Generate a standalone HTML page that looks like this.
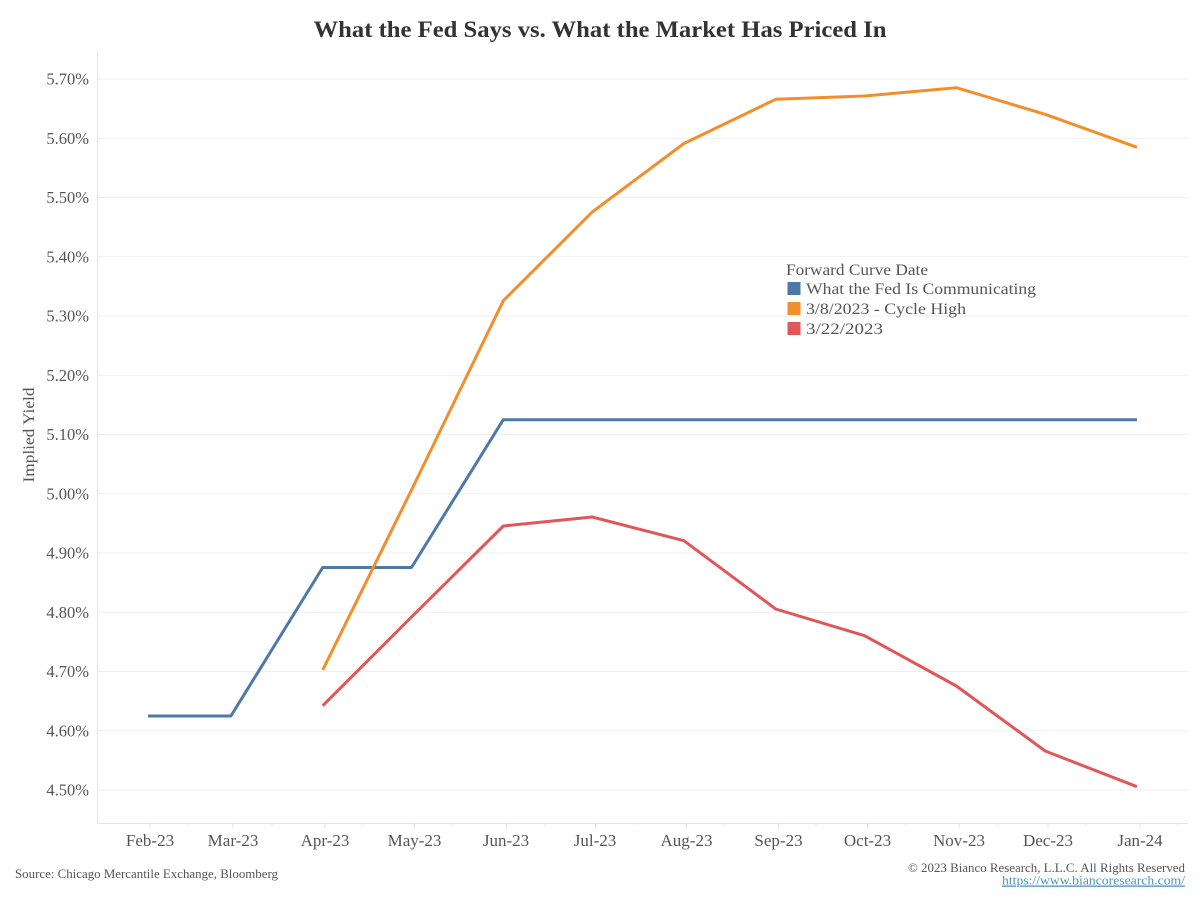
<!DOCTYPE html>
<html>
<head>
<meta charset="utf-8">
<style>
html,body{margin:0;padding:0;background:#fff;}
svg{display:block;}
text{font-family:"Liberation Serif","DejaVu Serif",serif;}
</style>
</head>
<body>
<svg width="1200" height="900" viewBox="0 0 1200 900" xmlns="http://www.w3.org/2000/svg">
<rect width="1200" height="900" fill="#fff"/>
<!-- Title -->
<text x="600" y="37" text-anchor="middle" font-size="23" font-weight="bold" fill="#333" textLength="573" lengthAdjust="spacingAndGlyphs">What the Fed Says vs. What the Market Has Priced In</text>

<!-- gridlines -->
<g stroke="#efefef" stroke-width="1">
<line x1="97" y1="79" x2="1188" y2="79"/>
<line x1="97" y1="138.25" x2="1188" y2="138.25"/>
<line x1="97" y1="197.5" x2="1188" y2="197.5"/>
<line x1="97" y1="256.75" x2="1188" y2="256.75"/>
<line x1="97" y1="316" x2="1188" y2="316"/>
<line x1="97" y1="375.25" x2="1188" y2="375.25"/>
<line x1="97" y1="434.5" x2="1188" y2="434.5"/>
<line x1="97" y1="493.75" x2="1188" y2="493.75"/>
<line x1="97" y1="553" x2="1188" y2="553"/>
<line x1="97" y1="612.25" x2="1188" y2="612.25"/>
<line x1="97" y1="671.5" x2="1188" y2="671.5"/>
<line x1="97" y1="730.75" x2="1188" y2="730.75"/>
<line x1="97" y1="790" x2="1188" y2="790"/>
</g>

<!-- axes -->
<g stroke="#e4e4e4" stroke-width="1">
<line x1="97.5" y1="51" x2="97.5" y2="823"/>
<line x1="97" y1="823.5" x2="1188" y2="823.5"/>
</g>
<!-- major ticks -->
<g stroke="#e0e0e0" stroke-width="1">
<line x1="150" y1="823" x2="150" y2="828"/>
<line x1="233" y1="823" x2="233" y2="828"/>
<line x1="325" y1="823" x2="325" y2="828"/>
<line x1="414.5" y1="823" x2="414.5" y2="828"/>
<line x1="506.5" y1="823" x2="506.5" y2="828"/>
<line x1="595.5" y1="823" x2="595.5" y2="828"/>
<line x1="686.5" y1="823" x2="686.5" y2="828"/>
<line x1="778.5" y1="823" x2="778.5" y2="828"/>
<line x1="867.5" y1="823" x2="867.5" y2="828"/>
<line x1="959" y1="823" x2="959" y2="828"/>
<line x1="1048" y1="823" x2="1048" y2="828"/>
<line x1="1140" y1="823" x2="1140" y2="828"/>
</g>
<!-- minor ticks -->
<g stroke="#ececec" stroke-width="1">
<line x1="188" y1="823" x2="188" y2="826"/>
<line x1="272" y1="823" x2="272" y2="826"/>
<line x1="363" y1="823" x2="363" y2="826"/>
<line x1="452.5" y1="823" x2="452.5" y2="826"/>
<line x1="544.5" y1="823" x2="544.5" y2="826"/>
<line x1="633.5" y1="823" x2="633.5" y2="826"/>
<line x1="724.5" y1="823" x2="724.5" y2="826"/>
<line x1="816" y1="823" x2="816" y2="826"/>
<line x1="906" y1="823" x2="906" y2="826"/>
<line x1="997" y1="823" x2="997" y2="826"/>
<line x1="1086" y1="823" x2="1086" y2="826"/>
<line x1="1178" y1="823" x2="1178" y2="826"/>
</g>

<!-- y labels -->
<g font-size="16.5" fill="#555" text-anchor="end">
<text x="89" y="84.5">5.70%</text>
<text x="89" y="143.75">5.60%</text>
<text x="89" y="203">5.50%</text>
<text x="89" y="262.25">5.40%</text>
<text x="89" y="321.5">5.30%</text>
<text x="89" y="380.75">5.20%</text>
<text x="89" y="440">5.10%</text>
<text x="89" y="499.25">5.00%</text>
<text x="89" y="558.5">4.90%</text>
<text x="89" y="617.75">4.80%</text>
<text x="89" y="677">4.70%</text>
<text x="89" y="736.25">4.60%</text>
<text x="89" y="795.5">4.50%</text>
</g>

<!-- y axis title -->
<text transform="translate(34,435) rotate(-90)" text-anchor="middle" font-size="15.5" fill="#555" textLength="95" lengthAdjust="spacingAndGlyphs">Implied Yield</text>

<!-- x labels -->
<g font-size="17" fill="#555" text-anchor="middle">
<text x="150" y="846">Feb-23</text>
<text x="233" y="846">Mar-23</text>
<text x="325" y="846">Apr-23</text>
<text x="414.5" y="846">May-23</text>
<text x="506" y="846">Jun-23</text>
<text x="595" y="846">Jul-23</text>
<text x="686.5" y="846">Aug-23</text>
<text x="778.5" y="846">Sep-23</text>
<text x="867.5" y="846">Oct-23</text>
<text x="959" y="846">Nov-23</text>
<text x="1048" y="846">Dec-23</text>
<text x="1140" y="846">Jan-24</text>
</g>

<!-- series -->
<g fill="none" stroke-width="3" stroke-linejoin="round" stroke-linecap="butt">
<polyline stroke="#4e79a7" points="148,716 230.9,716 322.7,567.5 411.5,567.5 503.3,419.7 1137,419.7"/>
<polyline stroke="#f28e2b" points="322.7,670 411.5,490 503.3,300.7 592.2,212 683.9,143.5 775.7,99.3 864.6,96 956.4,87.7 1045.2,114.3 1137,147.3"/>
<polyline stroke="#e15759" points="322.7,705.7 411.5,617 503.3,526 592.2,517 683.9,540.7 775.7,609 864.6,635.7 956.4,686 1045.2,751 1137,786.7"/>
</g>

<!-- legend -->
<text x="786" y="275" font-size="16" fill="#555" textLength="142" lengthAdjust="spacingAndGlyphs">Forward Curve Date</text>
<rect x="787.5" y="282" width="13" height="13" fill="#4e79a7"/>
<text x="806" y="294" font-size="16" fill="#555" textLength="230" lengthAdjust="spacingAndGlyphs">What the Fed Is Communicating</text>
<rect x="787.5" y="302" width="13" height="13" fill="#f28e2b"/>
<text x="806" y="314" font-size="16" fill="#555" textLength="160" lengthAdjust="spacingAndGlyphs">3/8/2023 - Cycle High</text>
<rect x="787.5" y="322" width="13" height="13" fill="#e15759"/>
<text x="806" y="334" font-size="16" fill="#555" textLength="77" lengthAdjust="spacingAndGlyphs">3/22/2023</text>

<!-- footer -->
<text x="15" y="878" font-size="13" fill="#555" textLength="263" lengthAdjust="spacingAndGlyphs">Source: Chicago Mercantile Exchange, Bloomberg</text>
<text x="1185" y="872" font-size="13" fill="#555" text-anchor="end" textLength="277" lengthAdjust="spacingAndGlyphs">© 2023 Bianco Research, L.L.C. All Rights Reserved</text>
<text x="1185" y="884.5" font-size="13" fill="#4a94c4" text-anchor="end" text-decoration="underline" textLength="183" lengthAdjust="spacingAndGlyphs">https://www.biancoresearch.com/</text>
</svg>
</body>
</html>
